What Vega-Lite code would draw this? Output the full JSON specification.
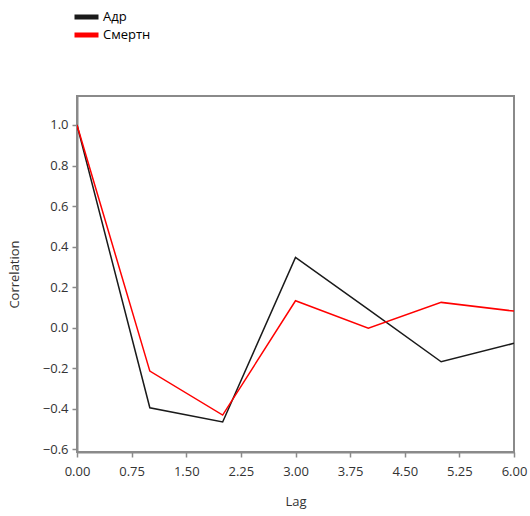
{
  "$schema": "https://vega.github.io/schema/vega-lite/v6.json",
  "autosize": "none",
  "width": 437,
  "height": 356,
  "padding": {"left": 77, "top": 96, "right": 16, "bottom": 64},
  "background": "white",
  "config": {
    "font": "Open Sans",
    "view": {"stroke": "#8a8a8a", "strokeWidth": 2},
    "axis": {
      "grid": false,
      "domainColor": "#8a8a8a",
      "domainWidth": 2,
      "tickColor": "#8a8a8a",
      "tickWidth": 1.5,
      "tickSize": 5,
      "labelFont": "Open Sans",
      "labelFontSize": 13,
      "labelColor": "#333",
      "titleFont": "Open Sans",
      "titleFontSize": 13,
      "titleFontWeight": "normal",
      "titleColor": "#333"
    }
  },
  "data": {
    "values": [
      {"lag": 0, "series": "Адр", "value": 1.0},
      {"lag": 1, "series": "Адр", "value": -0.395},
      {"lag": 2, "series": "Адр", "value": -0.465},
      {"lag": 3, "series": "Адр", "value": 0.347},
      {"lag": 4, "series": "Адр", "value": 0.09},
      {"lag": 5, "series": "Адр", "value": -0.168},
      {"lag": 6, "series": "Адр", "value": -0.077},
      {"lag": 0, "series": "Смертн", "value": 1.0},
      {"lag": 1, "series": "Смертн", "value": -0.214},
      {"lag": 2, "series": "Смертн", "value": -0.431},
      {"lag": 3, "series": "Смертн", "value": 0.133},
      {"lag": 4, "series": "Смертн", "value": -0.002},
      {"lag": 5, "series": "Смертн", "value": 0.125},
      {"lag": 6, "series": "Смертн", "value": 0.082}
    ]
  },
  "mark": {"type": "line", "strokeWidth": 1.5, "clip": true},
  "encoding": {
    "x": {
      "field": "lag", "type": "quantitative", "title": "Lag",
      "scale": {"domain": [0, 6], "nice": false, "zero": false},
      "axis": {"values": [0, 0.75, 1.5, 2.25, 3, 3.75, 4.5, 5.25, 6], "format": ".2f", "labelPadding": 8, "titlePadding": 17, "labelFlush": false}
    },
    "y": {
      "field": "value", "type": "quantitative", "title": "Correlation",
      "scale": {"domain": [-0.613, 1.143], "nice": false, "zero": false},
      "axis": {"values": [-0.6, -0.4, -0.2, 0, 0.2, 0.4, 0.6, 0.8, 1.0], "format": ".1f", "labelPadding": 4, "titlePadding": 21, "labelFlush": false}
    },
    "color": {
      "field": "series", "type": "nominal",
      "scale": {"domain": ["Адр", "Смертн"], "range": ["#1a1a1a", "#ff0000"]},
      "legend": {
        "title": null,
        "orient": "none",
        "legendX": -5,
        "legendY": -87,
        "symbolType": "M-1,0H3",
        "symbolStrokeWidth": 5,
        "symbolSize": 144,
        "labelFont": "Open Sans",
        "labelFontSize": 13,
        "labelColor": "#000",
        "labelOffset": 14,
        "clipHeight": 16,
        "rowPadding": 2
      }
    }
  }
}
